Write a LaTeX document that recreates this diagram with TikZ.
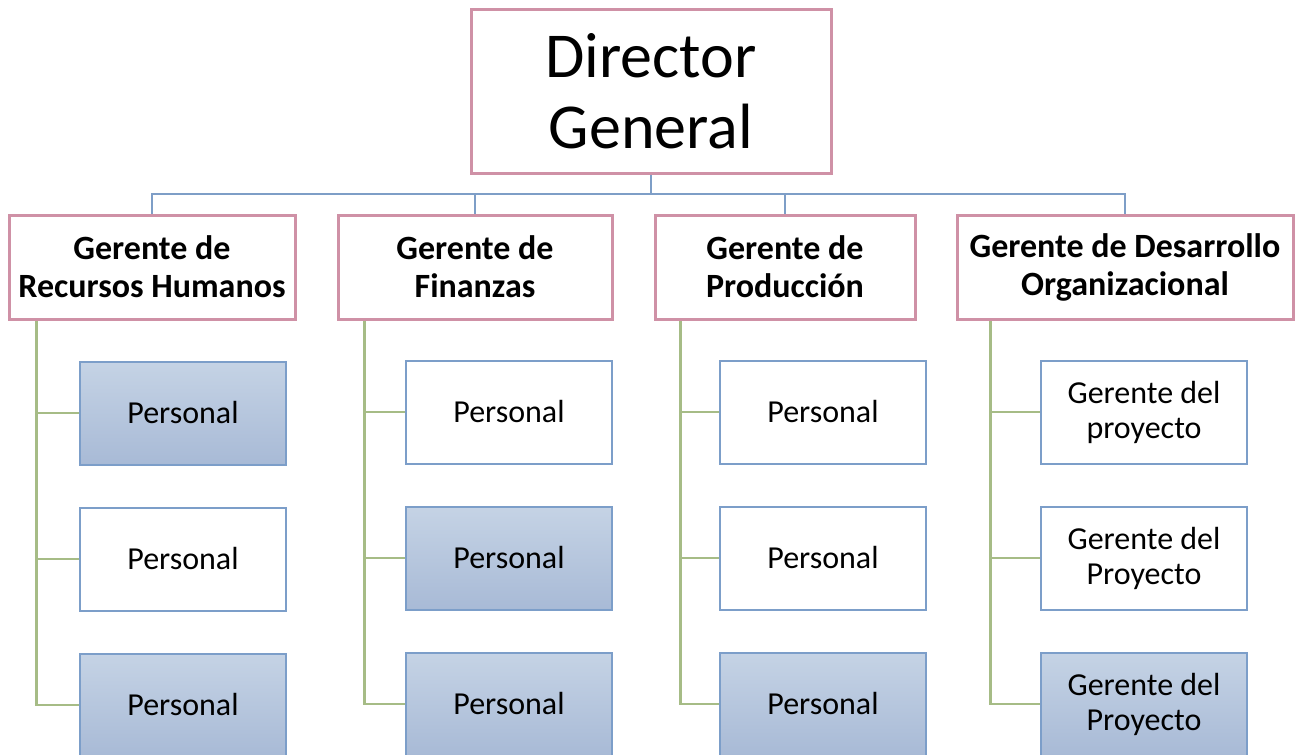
\documentclass[tikz,border=0pt]{standalone}
\usepackage{fontspec}
\setmainfont{Carlito}
\definecolor{boxpink}{RGB}{207,145,166}
\definecolor{linkblue}{RGB}{126,158,199}
\definecolor{staffblue}{RGB}{124,158,201}
\definecolor{spinegreen}{RGB}{166,188,134}
\definecolor{shadetop}{RGB}{197,211,229}
\definecolor{shadebot}{RGB}{168,186,214}
\tikzset{
  dirbox/.style={draw=boxpink, line width=3pt, fill=white, minimum width=360pt, minimum height=164pt,
    align=center, inner sep=0pt, font=\fontsize{64}{71}\selectfont},
  mgrbox/.style={draw=boxpink, line width=3pt, fill=white, minimum height=104pt,
    align=center, inner sep=0pt, font=\fontsize{34}{38}\selectfont\bfseries},
  staffbox/.style={draw=staffblue, line width=2pt, fill=white, minimum width=206pt, minimum height=103pt,
    align=center, inner sep=0pt, font=\fontsize{32}{35}\selectfont},
  staffshaded/.style={staffbox, top color=shadetop, bottom color=shadebot},
  treelink/.style={draw=linkblue, line width=2pt},
  spine/.style={draw=spinegreen, line width=2.5pt},
}
\begin{document}
\begin{tikzpicture}[x=1pt, y=-1pt]
\useasboundingbox (0,0) rectangle (1302,755);
\clip (0,0) rectangle (1302,755);

% top level
\node[dirbox] (dir) at (651,91) {Director\\General};

% managers
\node[mgrbox, minimum width=286pt] (hr)  at (152,267)  {Gerente de\\Recursos Humanos};
\node[mgrbox, minimum width=274pt] (fin) at (475,267)  {Gerente de\\Finanzas};
\node[mgrbox, minimum width=260pt] (pro) at (785,267)  {Gerente de\\Producción};
\node[mgrbox, minimum width=336pt] (dev) at (1125,267) {Gerente de Desarrollo\\Organizacional};

% bus from the director to the managers
\coordinate (bus) at (651,194);
\draw[treelink] (dir.south) -- (bus);
\draw[treelink] (hr.north) |- (bus);
\draw[treelink] (fin.north) |- (bus);
\draw[treelink] (pro.north) |- (bus);
\draw[treelink] (dev.north) |- (bus);

% staff under each manager
\node[staffshaded] (hr1) at (183,413) {Personal};
\node[staffbox]    (hr2) at (183,559) {Personal};
\node[staffshaded] (hr3) at (183,705) {Personal};

\node[staffbox]    (fin1) at (509,412) {Personal};
\node[staffshaded] (fin2) at (509,558) {Personal};
\node[staffshaded] (fin3) at (509,704) {Personal};

\node[staffbox]    (pro1) at (823,412) {Personal};
\node[staffbox]    (pro2) at (823,558) {Personal};
\node[staffshaded] (pro3) at (823,704) {Personal};

\node[staffbox]    (dev1) at (1144,412) {Gerente del\\proyecto};
\node[staffbox]    (dev2) at (1144,558) {Gerente del\\Proyecto};
\node[staffshaded] (dev3) at (1144,704) {Gerente del\\Proyecto};

% spines
\draw[spine] ([xshift=29pt]hr.south west) |- (hr3.west);
\draw[spine] ([xshift=29pt]hr.south west |- hr1.west) -- (hr1.west);
\draw[spine] ([xshift=29pt]hr.south west |- hr2.west) -- (hr2.west);

\draw[spine] ([xshift=28pt]fin.south west) |- (fin3.west);
\draw[spine] ([xshift=28pt]fin.south west |- fin1.west) -- (fin1.west);
\draw[spine] ([xshift=28pt]fin.south west |- fin2.west) -- (fin2.west);

\draw[spine] ([xshift=27pt]pro.south west) |- (pro3.west);
\draw[spine] ([xshift=27pt]pro.south west |- pro1.west) -- (pro1.west);
\draw[spine] ([xshift=27pt]pro.south west |- pro2.west) -- (pro2.west);

\draw[spine] ([xshift=35pt]dev.south west) |- (dev3.west);
\draw[spine] ([xshift=35pt]dev.south west |- dev1.west) -- (dev1.west);
\draw[spine] ([xshift=35pt]dev.south west |- dev2.west) -- (dev2.west);
\end{tikzpicture}
\end{document}
